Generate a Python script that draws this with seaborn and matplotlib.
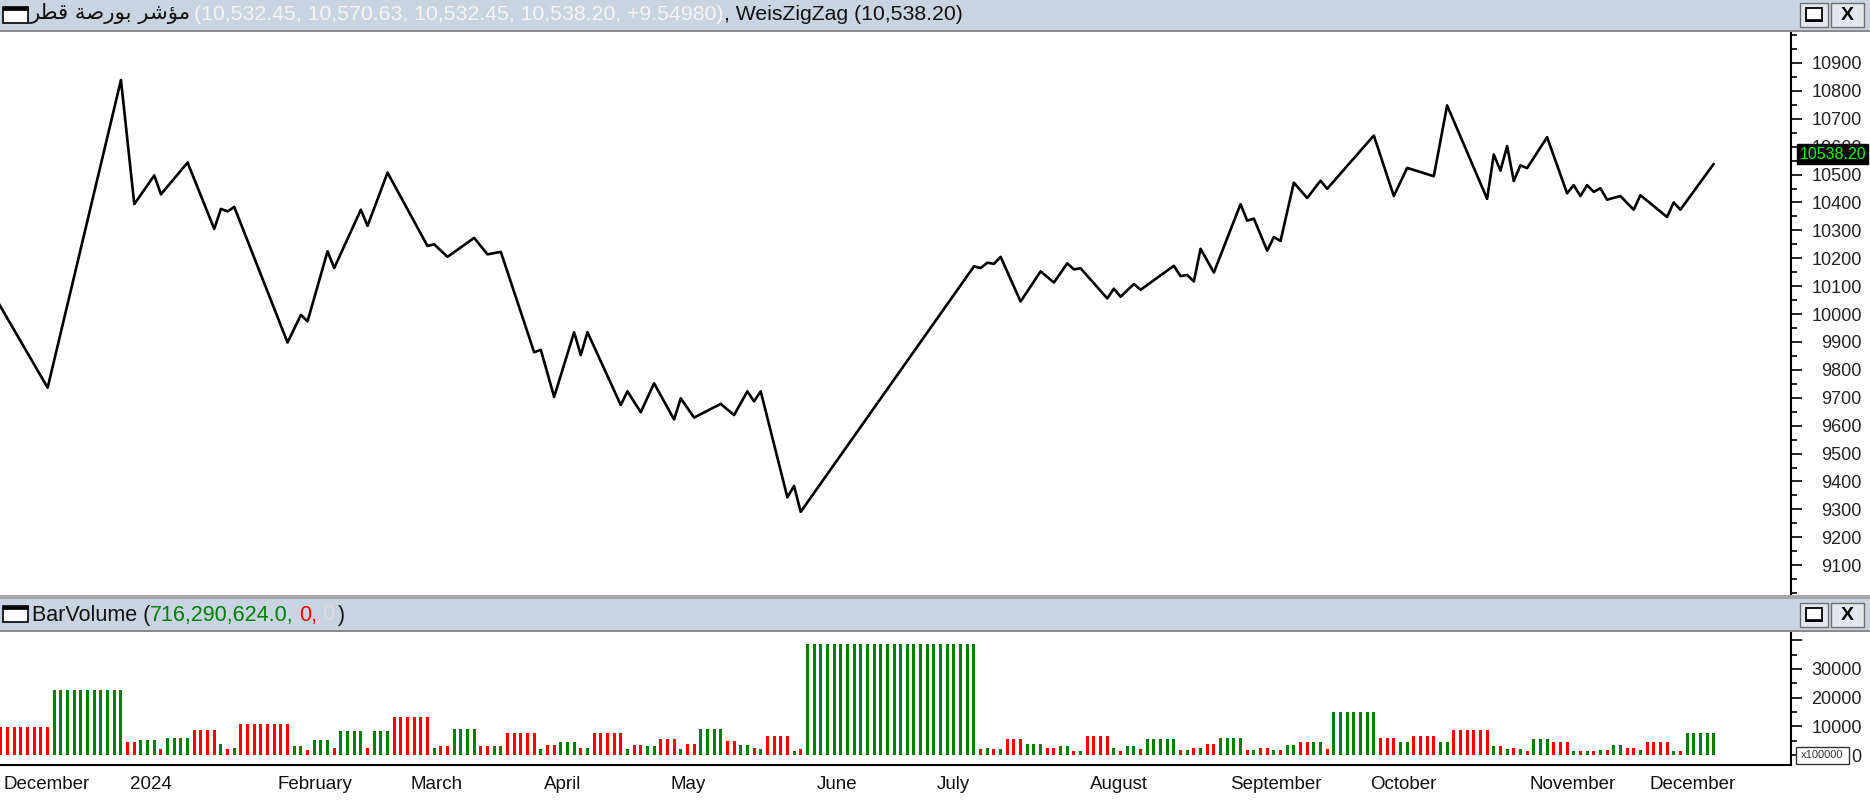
import numpy as np
import pandas as pd
import matplotlib
matplotlib.use("Agg")
import matplotlib.pyplot as plt
import seaborn as sns
from matplotlib.patches import Rectangle
from matplotlib.ticker import FixedLocator, MultipleLocator, NullFormatter

# ---------------------------------------------------------------- data
# trading-day index of every WeisZigZag pivot (day 0 = first bar on screen)
pivot_day = [
    -1, 7, 18, 20, 23, 24, 28, 32, 33, 34, 35, 43, 45, 46, 49, 50, 54, 55, 58,
    64, 65, 67, 71, 73, 75, 80, 81, 83, 86, 87, 88, 93, 94, 96, 98, 101, 102, 104,
    108, 110, 112, 113, 114, 118, 119, 120, 146, 147, 148, 149, 150, 153, 156, 158,
    160, 161, 162, 166, 167, 168, 170, 171, 176, 177, 178, 179, 180, 182, 186, 187,
    188, 190, 191, 192, 194, 196, 198, 199, 206, 209, 211, 215, 217, 223, 224, 225,
    226, 227, 228, 229, 232, 235, 236, 237, 238, 239, 240, 241, 243, 245, 246, 250,
    251, 252, 257]
pivot_price = [
    10065, 9736, 10839, 10394, 10497, 10429, 10543, 10305, 10377, 10368, 10384, 9898, 9997, 9974, 10225, 10165, 10374, 10316, 10507,
    10244, 10250, 10205, 10273, 10214, 10223, 9863, 9872, 9703, 9935, 9853, 9935, 9674, 9723, 9648, 9752, 9622, 9698, 9629,
    9678, 9638, 9723, 9687, 9723, 9343, 9384, 9291, 10171, 10165, 10184, 10180, 10205, 10045, 10153, 10113,
    10182, 10160, 10164, 10056, 10091, 10062, 10108, 10087, 10173, 10136, 10140, 10117, 10234, 10149, 10394, 10335,
    10342, 10227, 10276, 10262, 10471, 10416, 10478, 10449, 10640, 10423, 10524, 10494, 10748, 10413, 10572, 10514,
    10602, 10477, 10533, 10523, 10634, 10433, 10462, 10423, 10462, 10438, 10451, 10410, 10423, 10374, 10426, 10348,
    10400, 10374, 10538.20]
# volume of each wave (x100000); wave k ends at pivot k+1
wave_volume = [
    9800, 22600, 4600, 5200, 2100, 6100, 8700, 4000, 2100, 2600, 10700, 3000, 1900, 5200, 2600, 8200, 2600, 8200,
    13300, 2300, 3200, 9000, 3200, 3200, 7800, 2100, 3400, 4600, 2300, 2600, 7600, 2100, 3400, 3000, 5500, 2000, 4000,
    9200, 4900, 3400, 2400, 2000, 6700, 1500, 2000, 38700, 2000, 2600, 2000, 2000, 5500, 4000, 2600,
    3000, 1500, 1500, 6700, 2300, 1500, 3000, 2000, 5500, 1800, 1800, 2300, 2600, 4000, 6100, 1800,
    1800, 2400, 1800, 1800, 3400, 4600, 4600, 2000, 14900, 6100, 4600, 6700, 4600, 8700, 3000, 3200,
    2000, 2500, 2000, 1500, 5500, 4400, 1500, 1500, 1500, 1500, 1800, 1800, 3400, 2500, 1800, 4400,
    1500, 1500, 7600]

month_day = [0, 19, 41, 61, 81, 100, 122, 140, 163, 184, 205, 229, 247]
month_label = ["December", "2024", "February", "March", "April", "May", "June",
               "July", "August", "September", "October", "November", "December"]
week_day = [1, 6, 10, 14, 23, 28, 33, 38, 43, 48, 52, 57, 66, 71, 76, 86, 88, 93, 98,
            103, 108, 113, 118, 123, 128, 132, 135, 145, 150, 155, 160, 165, 170, 175,
            180, 185, 190, 195, 200, 210, 215, 220, 225, 230, 233, 238, 243, 248, 253,
            258, 263, 268]

price_ticks = list(range(9100, 11000, 100))
volume_ticks = [0, 10000, 20000, 30000, 40000]
volume_labels = ["0", "10000", "20000", "30000", ""]

header_values = "(10,532.45, 10,570.63, 10,532.45, 10,538.20, +9.54980)"
# "مؤشر بورصة قطر" written with shaped glyphs in visual order
index_name = "\uFEAE\uFEC4\uFED7 \uFE94\uFEBB\uFEAD\uFEEE\uFE91 \uFEAE\uFEB7\uFE86\uFEE3"

# one row per trading day, coloured by the direction of its wave
rows = []
for k in range(1, len(pivot_day)):
    wave = "up" if pivot_price[k] > pivot_price[k - 1] else "down"
    for d in range(pivot_day[k - 1] + 1, pivot_day[k] + 1):
        rows.append((d, wave_volume[k - 1], wave))
bars = pd.DataFrame(rows, columns=["day", "volume", "wave"])

# ---------------------------------------------------------------- figure
W, H = 1870, 800
GREEN, RED = "#008000", "#ff0000"
BAR_BG = "#c9d4e2"

sns.set_style("white")
plt.rcParams["font.family"] = ["Liberation Sans", "DejaVu Sans"]

fig = plt.figure(figsize=(W / 100, H / 100), dpi=100)
fig.patch.set_facecolor("white")


def axes_px(x0, y0, x1, y1):
    return fig.add_axes([x0 / W, 1 - y1 / H, (x1 - x0) / W, (y1 - y0) / H])


def rect_px(x0, y0, x1, y1, **kw):
    fig.patches.append(Rectangle((x0 / W, 1 - y1 / H), (x1 - x0) / W, (y1 - y0) / H,
                                 transform=fig.transFigure, figure=fig, **kw))


def chain_text(x, y, parts, size):
    renderer = fig.canvas.get_renderer()
    for s, color, family, gap in parts:
        x += gap
        t = fig.text(x / W, 1 - y / H, s, color=color, fontsize=size, family=family,
                     ha="left", va="center")
        x += t.get_window_extent(renderer).width


def window_buttons(y0):
    rect_px(1800, y0, 1828, y0 + 24, facecolor="#e4e8ee", edgecolor="#707070", lw=1)
    rect_px(1831, y0, 1864, y0 + 24, facecolor="#e4e8ee", edgecolor="#707070", lw=1)
    rect_px(1806, y0 + 5, 1822, y0 + 18, facecolor="white", edgecolor="black", lw=1.3)
    rect_px(1806, y0 + 16, 1822, y0 + 18, facecolor="black", edgecolor="black", lw=0.5)
    fig.text(1847.5 / W, 1 - (y0 + 12.5) / H, "X", fontsize=14, fontweight="bold",
             ha="center", va="center", color="black")


def window_icon(y0):
    rect_px(3, y0, 28, y0 + 16, facecolor="white", edgecolor="black", lw=1.2)
    rect_px(3, y0, 28, y0 + 3, facecolor="black", edgecolor="black", lw=0.5)


# title bars and separators
rect_px(0, 0, W, 30, facecolor=BAR_BG, edgecolor="none")
rect_px(0, 30, W, 32, facecolor="#8a8a8a", edgecolor="none")
rect_px(0, 595, W, 599, facecolor="#a6a6a6", edgecolor="none")
rect_px(0, 599, W, 630, facecolor=BAR_BG, edgecolor="none")
rect_px(0, 630, W, 632, facecolor="#8a8a8a", edgecolor="none")
window_icon(7)
window_icon(606)
window_buttons(3)
window_buttons(603)

chain_text(30, 14, [(index_name, "#111111", "DejaVu Sans", 0),
                    (header_values, "#f4f4f4", "Liberation Sans", 3),
                    (", WeisZigZag (10,538.20)", "#111111", "Liberation Sans", 0)], 15.3)
chain_text(32, 615, [("BarVolume (", "#111111", "Liberation Sans", 0),
                     ("716,290,624.0,", GREEN, "Liberation Sans", 0),
                     ("0,", RED, "Liberation Sans", 5),
                     ("0", "#dddddd", "Liberation Sans", 5),
                     (")", "#111111", "Liberation Sans", 4)], 15.5)

# ---------------------------------------------------------------- price panel
ax_p = axes_px(0, 32, 1791, 595)
sns.lineplot(x=pivot_day, y=pivot_price, color="black", linewidth=1.9,
             estimator=None, sort=False, ax=ax_p)
ax_p.set_xlim(-0.15, 268.6)
ax_p.set_ylim(8993, 11011)
ax_p.set_xlabel("")
ax_p.set_ylabel("")
ax_p.set_xticks([])
for side in ["left", "top", "bottom"]:
    ax_p.spines[side].set_visible(False)
ax_p.spines["right"].set_linewidth(1.5)
ax_p.spines["right"].set_color("black")
ax_p.yaxis.tick_right()
ax_p.yaxis.set_major_locator(FixedLocator(price_ticks))
ax_p.yaxis.set_minor_locator(MultipleLocator(50))
ax_p.yaxis.set_minor_formatter(NullFormatter())
ax_p.tick_params(axis="y", which="major", direction="out", length=8, width=1.2,
                 pad=43, labelsize=13, labelcolor="#222222", color="black")
ax_p.tick_params(axis="y", which="minor", direction="out", length=4, width=1.2, color="black")
for t in ax_p.yaxis.get_major_ticks():
    t.label2.set_horizontalalignment("right")

# last-price marker on the axis (covers the neighbouring tick labels, as on screen)
ax_p.annotate(f"{pivot_price[-1]:.2f}", xy=(1.0, pivot_price[-1]),
              xycoords=ax_p.get_yaxis_transform(), xytext=(6, 7), textcoords="offset points",
              ha="left", va="center", fontsize=11.5, color="#00ff00", annotation_clip=False,
              zorder=5,
              bbox=dict(boxstyle="square,pad=0.14", facecolor="black", edgecolor="black"))

# ---------------------------------------------------------------- volume panel
ax_v = axes_px(0, 632, 1791, 765)
sns.barplot(data=bars, x="day", y="volume", hue="wave", palette={"up": GREEN, "down": RED},
            native_scale=True, width=0.45, dodge=False, errorbar=None, saturation=1,
            linewidth=0, legend=False, ax=ax_v)
ax_v.set_xlim(-0.15, 268.6)
ax_v.set_ylim(-3480, 42860)
ax_v.set_xlabel("")
ax_v.set_ylabel("")
for side in ["left", "top"]:
    ax_v.spines[side].set_visible(False)
for side in ["right", "bottom"]:
    ax_v.spines[side].set_linewidth(1.5)
    ax_v.spines[side].set_color("black")
ax_v.yaxis.tick_right()
ax_v.yaxis.set_major_locator(FixedLocator(volume_ticks))
ax_v.set_yticklabels(volume_labels)
ax_v.yaxis.set_minor_locator(FixedLocator(np.arange(5000, 40000, 10000)))
ax_v.tick_params(axis="y", which="major", direction="out", length=8, width=1.2,
                 pad=43, labelsize=13, labelcolor="#222222", color="black")
ax_v.tick_params(axis="y", which="minor", direction="out", length=4, width=1.2, color="black")
for t in ax_v.yaxis.get_major_ticks():
    t.label2.set_horizontalalignment("right")

ax_v.xaxis.set_major_locator(FixedLocator(month_day))
ax_v.xaxis.set_minor_locator(FixedLocator(week_day))
ax_v.tick_params(axis="x", which="major", direction="out", length=25, width=1.2,
                 labelbottom=False, color="black")
ax_v.tick_params(axis="x", which="minor", direction="out", length=5, width=1.2, color="black")
for d, name in zip(month_day, month_label):
    ax_v.annotate(name, xy=(d, 0), xycoords=("data", "axes fraction"), xytext=(2, -14),
                  textcoords="offset points", ha="left", va="center", fontsize=13.5,
                  color="#111111", annotation_clip=False)

# scale box of the volume axis
rect_px(1796, 747, 1849, 764, facecolor="white", edgecolor="#333333", lw=1)
fig.text(1822.5 / W, 1 - 755.5 / H, "x100000", fontsize=8, ha="center", va="center", color="#333333")

fig.savefig("out.png", dpi=100, facecolor="white")
